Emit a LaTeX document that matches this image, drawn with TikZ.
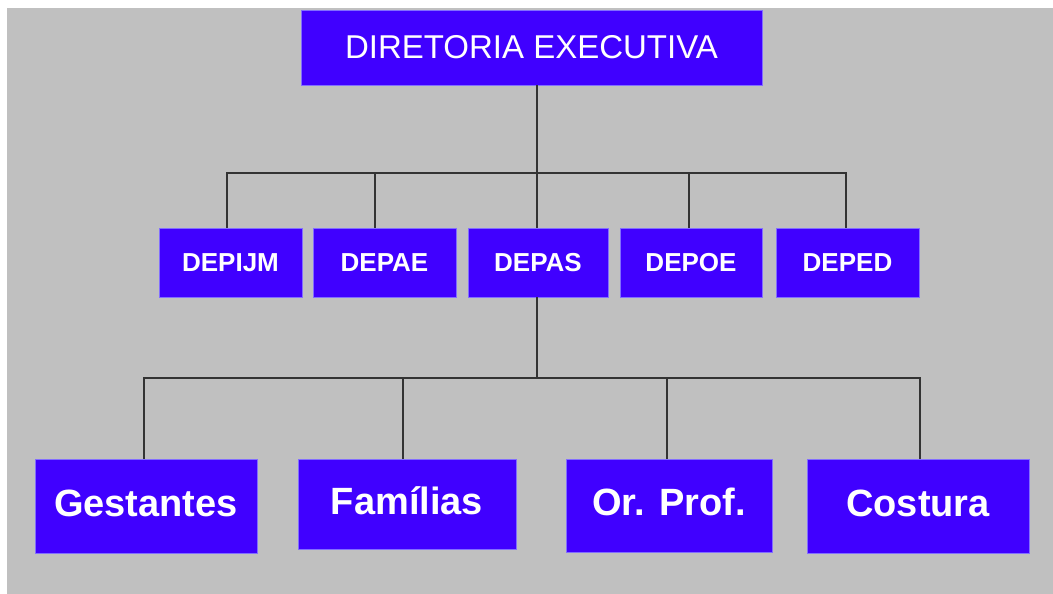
\documentclass[tikz,border=0pt]{standalone}
\usepackage{fontspec}
\setmainfont{Liberation Sans}
\usepackage{tikz}
\usetikzlibrary{calc}
\definecolor{chefe}{RGB}{64,0,255}
\definecolor{borda}{RGB}{130,110,255}
\definecolor{fundo}{RGB}{192,192,192}

\begin{document}
\begin{tikzpicture}[x=1pt, y=-1pt,
  caixa/.style={rectangle, fill=chefe, draw=borda, line width=0.8pt, inner sep=0pt, text=white},
  topo/.style={caixa, font=\fontsize{33}{33}\selectfont},
  depto/.style={caixa, minimum height=69pt, font=\fontsize{26}{26}\bfseries\selectfont},
  setor/.style={caixa, text height=28pt, text depth=8pt, font=\fontsize{38}{38}\bfseries\selectfont},
  liga/.style={line width=1.6pt, draw=black!80}]
\useasboundingbox (0,0) rectangle (1053,594);
\fill[fundo] (7,8) rectangle (1053,594);
\node[topo, minimum width=461pt, minimum height=75pt] (dir) at (531.5,47.5) {DIRETORIA EXECUTIVA};
\node[depto, minimum width=143pt] (depijm) at (230.5,262.5) {DEPIJM};
\node[depto, minimum width=143pt] (depae) at (384.5,262.5) {DEPAE};
\node[depto, minimum width=140pt] (depas) at (538,262.5) {DEPAS};
\node[depto, minimum width=142pt] (depoe) at (691,262.5) {DEPOE};
\node[depto, minimum width=143pt] (deped) at (847.5,262.5) {DEPED};
\node[setor, minimum width=222pt, minimum height=94pt] (gest) at (146,506) {Gestantes};
\node[setor, minimum width=218pt, minimum height=90pt] (fam) at (407,504) {Famílias};
\node[setor, minimum width=206pt, minimum height=93pt] (orp) at (669,505.5) {Or. Prof.};
\node[setor, minimum width=222pt, minimum height=94pt] (cost) at (918,506) {Costura};
\coordinate (m1) at (227,173);
\coordinate (m2) at (375,173);
\coordinate (m3) at (537,173);
\coordinate (m4) at (689,173);
\coordinate (m5) at (846,173);
\coordinate (s1) at (144,378);
\coordinate (s2) at (403,378);
\coordinate (s3) at (667,378);
\coordinate (s4) at (920,378);
\draw[liga] (m3 |- dir.south) -- (m3 |- depas.north);
\draw[liga] (m1 |- depijm.north) -- (m1) -- (m5) -- (m5 |- deped.north);
\draw[liga] (m2) -- (m2 |- depae.north);
\draw[liga] (m4) -- (m4 |- depoe.north);
\draw[liga] (m3 |- depas.south) -- (m3 |- s1);
\draw[liga] (s1 |- gest.north) -- (s1) -- (s4) -- (s4 |- cost.north);
\draw[liga] (s2) -- (s2 |- fam.north);
\draw[liga] (s3) -- (s3 |- orp.north);
\end{tikzpicture}
\end{document}
